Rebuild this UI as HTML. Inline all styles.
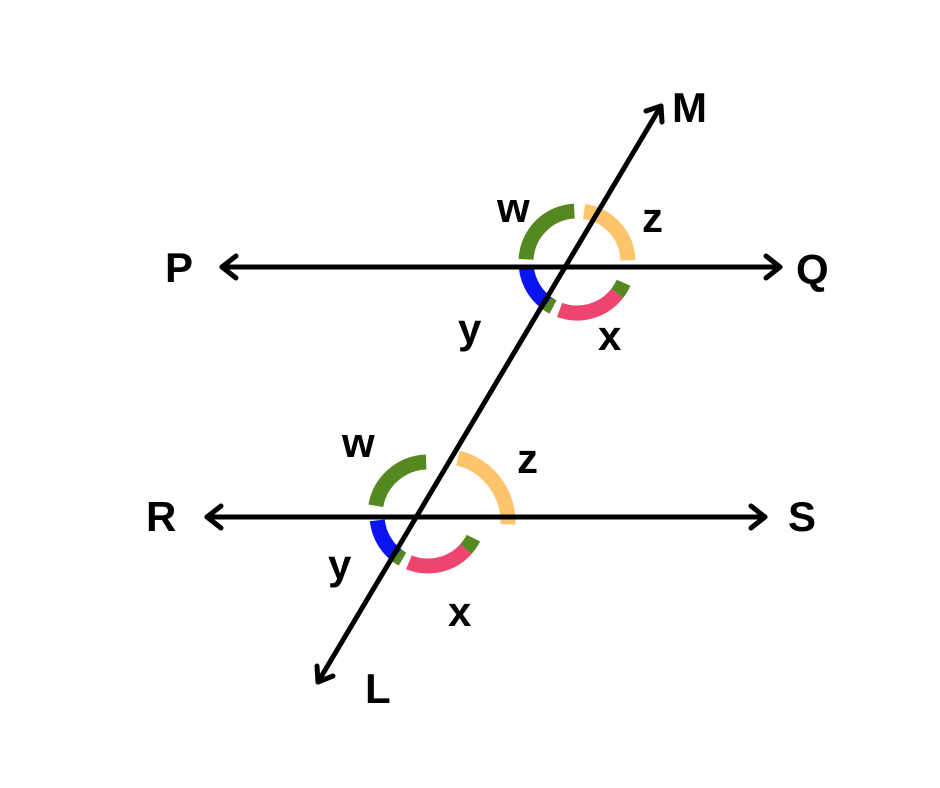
<!DOCTYPE html>
<html><head><meta charset="utf-8"><style>
html,body{margin:0;padding:0;background:#fff;width:940px;height:788px;overflow:hidden}
text{font-family:"Liberation Sans",sans-serif;font-weight:bold;font-size:42px;fill:#000}
</style></head><body>
<svg width="940" height="788">
<g id="arcs" fill="none" stroke-width="15"></g>
<g stroke="#000" stroke-width="5" fill="none" stroke-linecap="round" stroke-linejoin="round">
<line x1="222" y1="267" x2="780" y2="267"/>
<polyline points="236,256 222,267 236,278"/>
<polyline points="766,256 780,267 766,278"/>
<line x1="207" y1="517" x2="765" y2="517"/>
<polyline points="221,506 207,517 221,528"/>
<polyline points="751,506 765,517 751,528"/>
<line x1="318" y1="682" x2="661" y2="106"/>
<polyline points="646,111 661,106 662,122"/>
<polyline points="317,666 318,682 333,676"/>
</g>
<text x="165" y="282">P</text>
<text x="796" y="284">Q</text>
<text x="146" y="531">R</text>
<text x="788" y="531">S</text>
<text x="672" y="122">M</text>
<text x="365" y="703">L</text>
<text x="497" y="222">w</text>
<text x="642" y="232">z</text>
<text x="458" y="343">y</text>
<text x="598" y="350">x</text>
<text x="342" y="457">w</text>
<text x="517" y="473">z</text>
<text x="328" y="579">y</text>
<text x="448" y="626">x</text>
</svg>
<script>
const g=document.getElementById('arcs');
function arc(cx,cy,r,a1,a2,col,name){
  const p=a=>[cx+r*Math.cos(a*Math.PI/180),cy-r*Math.sin(a*Math.PI/180)];
  const [x1,y1]=p(a1),[x2,y2]=p(a2);
  const large=Math.abs(a2-a1)>180?1:0;
  const sweep=a2>a1?0:1;
  const el=document.createElementNS('http://www.w3.org/2000/svg','path');
  el.setAttribute('d',`M${x1} ${y1}A${r} ${r} 0 ${large} ${sweep} ${x2} ${y2}`);
  el.setAttribute('stroke',col);
  
  
  g.appendChild(el);
}
arc(577,262,51,177,93,'#558820','angle-w-top');
arc(577,262,51,82,2,'#fcc56c','angle-z-top');
arc(577,262,51,186,240,'#0a14f0','angle-y-top');
arc(577,262,51,234,242,'#558820','angle-y-top-tip');
arc(577,262,51,250,322,'#ee4470','angle-x-top');
arc(577,262,51,322,336,'#558820','angle-x-top-tip');
arc(428,515,53,170,92,'#558820','angle-w-bottom');
arc(442,522,66,76,-2,'#fcc56c','angle-z-bottom');
arc(428,515,51,186,236,'#0a14f0','angle-y-bottom');
arc(428,515,51,232,240,'#558820','angle-y-bottom-tip');
arc(428,515,51,248,318,'#ee4470','angle-x-bottom');
arc(428,515,51,318,333,'#558820','angle-x-bottom-tip');
</script>
</body></html>
